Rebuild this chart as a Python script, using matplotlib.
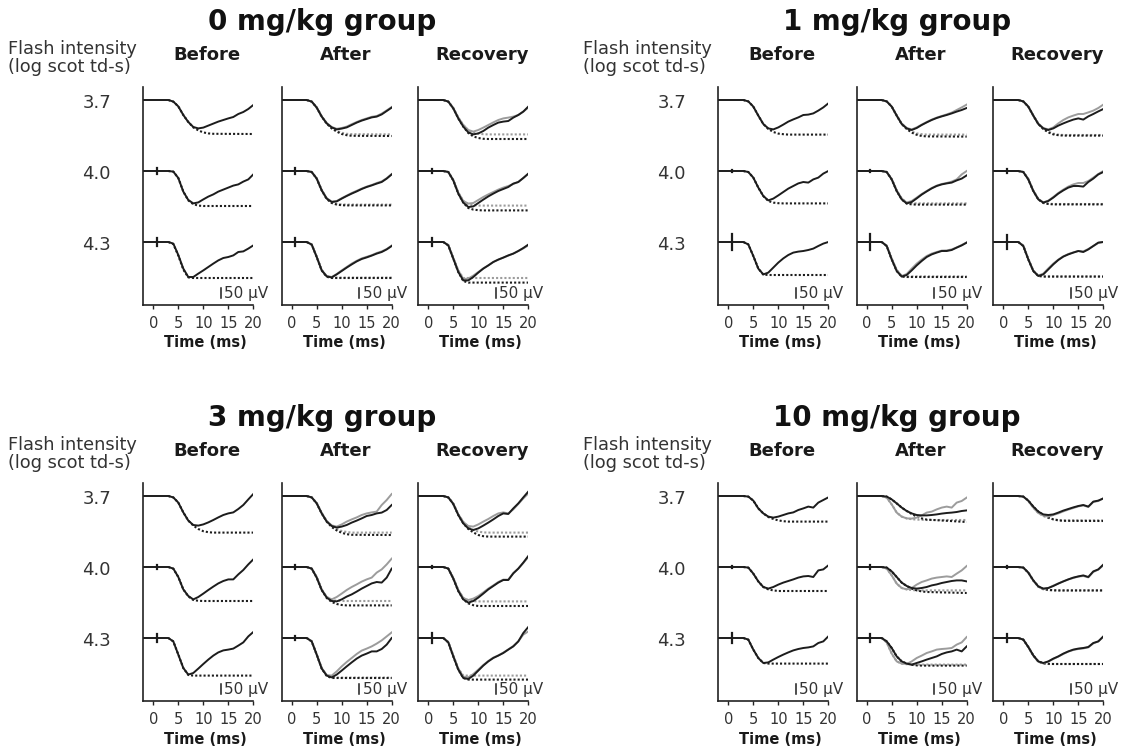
import matplotlib.pyplot as plt
from matplotlib.transforms import blended_transform_factory

plt.rcParams['font.family'] = ['DejaVu Sans']

# time grids (ms)
T_MS = [-2, 2, 3, 4, 5, 6, 7, 8, 9, 10, 11, 12, 13, 14, 15, 16, 17, 18, 19, 20]
T_FIT = [3, 4, 5, 6, 7, 8, 9, 10, 11, 12, 20]
INTENSITIES = ['3.7', '4.0', '4.3']
CONDITIONS = ['Before', 'After', 'Recovery']
GROUP_TITLES = ['0 mg/kg group', '1 mg/kg group', '3 mg/kg group', '10 mg/kg group']
X_TICKS = [0, 5, 10, 15, 20]

# ---- 0 mg/kg (uV, one row per intensity 3.7 / 4.0 / 4.3)
g0_before = [
    [0, 0, 0, -8, -32, -75, -110, -135, -142, -138, -128, -118, -108, -100, -92, -85, -70, -60, -45, -25],
    [0, 0, 0, -3, -35, -103, -145, -162, -157, -142, -128, -117, -103, -93, -83, -73, -67, -53, -42, -17],
    [0, 0, 0, -8, -65, -133, -175, -175, -158, -142, -125, -108, -92, -80, -75, -67, -50, -47, -33, -17],
]
g0_before_fit = [
    [0, -8, -32, -75, -110, -137, -152, -162, -167, -169, -170],
    [0, -3, -35, -103, -147, -166, -173, -175, -175, -175, -175],
    [0, -10, -68, -138, -177, -180, -180, -180, -180, -180, -180],
]
g0_after = [
    [0, 0, 0, -8, -38, -83, -117, -137, -147, -143, -137, -125, -113, -103, -95, -87, -83, -72, -55, -38],
    [0, 0, 0, -5, -38, -97, -138, -155, -152, -138, -125, -113, -102, -90, -80, -72, -63, -55, -38, -17],
    [0, 0, 0, -13, -75, -142, -172, -177, -162, -145, -128, -112, -97, -85, -77, -68, -58, -50, -37, -20],
]
g0_after_gray = [
    [0, 0, 0, -8, -37, -82, -115, -135, -144, -140, -133, -121, -110, -100, -92, -84, -80, -68, -52, -35],
    [0, 0, 0, -5, -37, -95, -136, -153, -150, -136, -123, -110, -99, -88, -78, -70, -60, -52, -36, -15],
    [0, 0, 0, -12, -73, -140, -170, -175, -160, -142, -125, -108, -94, -82, -74, -66, -55, -47, -35, -18],
]
g0_after_fit = [
    [0, -8, -38, -83, -118, -142, -158, -170, -176, -179, -180],
    [0, -5, -38, -97, -140, -160, -168, -171, -172, -172, -172],
    [0, -13, -75, -142, -174, -180, -180, -180, -180, -180, -180],
]
g0_after_gray_fit = [
    [0, -8, -37, -82, -116, -140, -154, -164, -169, -171, -172],
    [0, -5, -37, -95, -137, -157, -165, -167, -168, -168, -168],
    [0, -12, -73, -140, -172, -178, -178, -178, -178, -178, -178],
]
g0_rec = [
    [0, 0, 0, -8, -42, -92, -133, -162, -172, -167, -155, -138, -125, -113, -108, -105, -88, -75, -58, -33],
    [0, 0, 0, -5, -47, -113, -158, -180, -177, -160, -143, -127, -113, -100, -90, -80, -63, -55, -35, -13],
    [0, 0, 0, -17, -83, -150, -192, -192, -175, -153, -133, -117, -100, -88, -78, -67, -58, -45, -30, -13],
]
g0_rec_gray = [
    [0, 0, 0, -8, -40, -88, -125, -150, -158, -150, -138, -125, -112, -100, -92, -88, -83, -75, -58, -38],
    [0, 0, 0, -5, -45, -108, -150, -163, -160, -145, -130, -117, -105, -93, -83, -75, -65, -55, -35, -15],
    [0, 0, 0, -15, -80, -143, -185, -183, -168, -150, -132, -117, -100, -88, -78, -68, -58, -45, -32, -17],
]
g0_rec_fit = [
    [0, -8, -42, -92, -133, -165, -182, -190, -194, -195, -195],
    [0, -5, -47, -113, -158, -185, -193, -196, -197, -197, -197],
    [0, -17, -83, -150, -195, -203, -203, -203, -203, -203, -203],
]
g0_rec_gray_fit = [
    [0, -8, -40, -88, -125, -152, -163, -168, -171, -172, -172],
    [0, -5, -45, -108, -150, -166, -171, -173, -173, -173, -173],
    [0, -15, -80, -143, -180, -180, -180, -180, -180, -180, -180],
]
g0_artifact = [[0, 14, 18], [0, 16, 18], [0, 8, 18]]

# ---- 1 mg/kg
g1_before = [
    [0, 0, 0, -7, -33, -78, -120, -142, -147, -137, -123, -108, -97, -87, -75, -73, -67, -53, -37, -17],
    [0, 0, 0, -5, -33, -83, -125, -147, -138, -122, -105, -88, -75, -62, -55, -58, -42, -33, -13, 0],
    [0, 0, 0, -12, -70, -133, -162, -153, -128, -103, -82, -65, -53, -48, -45, -40, -33, -20, -8, 0],
]
g1_before_fit = [
    [0, -7, -33, -78, -120, -145, -160, -168, -171, -173, -173],
    [0, -5, -33, -83, -125, -150, -158, -161, -162, -162, -162],
    [0, -12, -70, -133, -163, -165, -165, -165, -165, -165, -165],
]
g1_after = [
    [0, 0, 0, -7, -33, -78, -120, -142, -150, -140, -125, -112, -100, -90, -82, -75, -67, -58, -50, -40],
    [0, 0, 0, -5, -42, -100, -142, -162, -155, -137, -118, -102, -87, -75, -67, -62, -58, -47, -38, -22],
    [0, 0, 0, -20, -87, -145, -173, -165, -142, -117, -95, -75, -62, -53, -45, -45, -40, -28, -17, -3],
]
g1_after_gray = [
    [0, 0, 0, -7, -33, -78, -118, -140, -147, -137, -123, -110, -98, -88, -80, -72, -63, -50, -37, -23],
    [0, 0, 0, -5, -40, -97, -138, -158, -150, -133, -115, -100, -85, -73, -65, -60, -53, -42, -17, 0],
    [0, 0, 0, -18, -83, -140, -170, -160, -133, -108, -88, -70, -58, -50, -43, -42, -37, -27, -15, -2],
]
g1_after_fit = [
    [0, -7, -33, -78, -120, -145, -163, -174, -180, -182, -183],
    [0, -5, -42, -100, -142, -163, -167, -168, -168, -168, -168],
    [0, -20, -87, -145, -173, -175, -175, -175, -175, -175, -175],
]
g1_after_gray_fit = [
    [0, -7, -33, -78, -118, -142, -158, -167, -171, -173, -173],
    [0, -5, -40, -97, -138, -158, -161, -162, -162, -162, -162],
    [0, -18, -83, -140, -170, -172, -172, -172, -172, -172, -172],
]
g1_rec = [
    [0, 0, 0, -7, -33, -78, -120, -142, -150, -142, -128, -117, -107, -98, -92, -98, -82, -70, -57, -45],
    [0, 0, 0, -5, -42, -100, -142, -158, -150, -133, -113, -97, -83, -75, -75, -78, -55, -38, -17, -5],
    [0, 0, 0, -20, -87, -145, -170, -162, -137, -112, -90, -73, -62, -53, -45, -50, -37, -20, -3, 0],
]
g1_rec_gray = [
    [0, 0, 0, -7, -33, -78, -118, -140, -147, -137, -117, -100, -87, -78, -70, -70, -62, -53, -40, -23],
    [0, 0, 0, -5, -40, -98, -140, -157, -148, -130, -110, -93, -78, -67, -60, -60, -50, -33, -15, 0],
    [0, 0, 0, -18, -85, -143, -168, -158, -132, -108, -88, -72, -60, -52, -45, -47, -35, -20, -5, 0],
]
g1_rec_fit = [
    [0, -7, -33, -78, -120, -145, -162, -172, -176, -178, -178],
    [0, -5, -42, -100, -142, -160, -165, -167, -167, -167, -167],
    [0, -20, -87, -145, -170, -173, -173, -173, -173, -173, -173],
]
g1_rec_gray_fit = [
    [0, -7, -33, -78, -118, -142, -158, -168, -173, -175, -175],
    [0, -5, -40, -98, -140, -158, -163, -165, -165, -165, -165],
    [0, -18, -85, -143, -168, -172, -172, -172, -172, -172, -172],
]
g1_artifact = [[0, 6, 40], [0, 5, 40], [0, 8, 36]]

# ---- 3 mg/kg
g3_before = [
    [0, 0, 0, -7, -33, -82, -123, -145, -148, -142, -132, -120, -107, -95, -87, -82, -65, -45, -17, 10],
    [0, 0, 0, -8, -50, -112, -145, -162, -150, -133, -115, -98, -82, -70, -62, -62, -37, -15, 13, 38],
    [0, 0, 0, -17, -83, -150, -183, -175, -153, -130, -108, -88, -72, -62, -58, -53, -38, -22, 8, 30],
]
g3_before_fit = [
    [0, -7, -33, -82, -123, -148, -165, -176, -181, -183, -183],
    [0, -8, -50, -112, -147, -165, -169, -170, -170, -170, -170],
    [0, -17, -83, -150, -185, -188, -188, -188, -188, -188, -188],
]
g3_after = [
    [0, 0, 0, -7, -37, -87, -128, -150, -158, -153, -145, -133, -123, -112, -100, -95, -87, -83, -70, -45],
    [0, 0, 0, -8, -53, -115, -153, -170, -172, -162, -148, -137, -123, -108, -95, -82, -75, -78, -53, -8],
    [0, 0, 0, -17, -83, -153, -188, -197, -183, -163, -142, -122, -103, -88, -78, -67, -67, -55, -33, 0],
]
g3_after_gray = [
    [0, 0, 0, -7, -35, -85, -125, -147, -153, -142, -128, -117, -107, -95, -87, -82, -78, -45, -20, 10],
    [0, 0, 0, -8, -50, -112, -150, -162, -150, -133, -115, -100, -87, -73, -62, -53, -28, -12, 13, 42],
    [0, 0, 0, -17, -83, -150, -185, -188, -167, -142, -120, -100, -80, -63, -53, -42, -28, -12, 8, 28],
]
g3_after_fit = [
    [0, -7, -37, -87, -128, -155, -172, -184, -191, -194, -195],
    [0, -8, -53, -115, -155, -175, -185, -190, -192, -192, -192],
    [0, -17, -83, -153, -190, -200, -200, -200, -200, -200, -200],
]
g3_after_gray_fit = [
    [0, -7, -35, -85, -125, -150, -165, -175, -180, -183, -183],
    [0, -8, -50, -112, -150, -165, -169, -170, -170, -170, -170],
    [0, -17, -83, -150, -187, -198, -198, -198, -198, -198, -198],
]
g3_rec = [
    [0, 0, 0, -7, -40, -95, -137, -162, -170, -162, -148, -133, -117, -100, -87, -90, -62, -37, -7, 22],
    [0, 0, 0, -8, -58, -120, -162, -178, -170, -153, -133, -112, -95, -78, -65, -65, -32, -8, 22, 55],
    [0, 0, 0, -22, -92, -158, -200, -205, -188, -163, -138, -117, -100, -88, -75, -58, -42, -17, 25, 55],
]
g3_rec_gray = [
    [0, 0, 0, -7, -38, -92, -130, -150, -153, -142, -128, -115, -100, -87, -82, -87, -67, -40, -12, 13],
    [0, 0, 0, -8, -55, -115, -155, -165, -158, -145, -127, -108, -92, -75, -63, -63, -30, -8, 20, 50],
    [0, 0, 0, -20, -88, -153, -193, -197, -180, -158, -135, -115, -98, -87, -73, -57, -40, -17, 17, 33],
]
g3_rec_fit = [
    [0, -7, -40, -95, -137, -165, -182, -195, -201, -203, -203],
    [0, -8, -58, -120, -162, -182, -191, -195, -195, -195, -195],
    [0, -22, -92, -158, -200, -208, -208, -208, -208, -208, -208],
]
g3_rec_gray_fit = [
    [0, -7, -38, -92, -130, -155, -170, -178, -182, -183, -183],
    [0, -8, -55, -115, -155, -167, -171, -172, -172, -172, -172],
    [0, -20, -88, -153, -188, -188, -188, -188, -188, -188, -188],
]
g3_artifact = [[0, 12, 18], [0, 8, 10], [0, 6, 26]]

# ---- 10 mg/kg
g10_before = [
    [0, 0, 0, -3, -23, -62, -87, -103, -108, -103, -95, -87, -82, -70, -62, -53, -58, -33, -20, -7],
    [0, 0, 0, -3, -33, -72, -100, -108, -100, -88, -78, -70, -62, -53, -47, -45, -50, -17, -12, 8],
    [0, 0, 0, -8, -58, -100, -125, -122, -108, -95, -83, -72, -62, -55, -50, -47, -42, -25, -17, 8],
]
g10_before_fit = [
    [0, -3, -23, -62, -87, -105, -115, -122, -126, -128, -128],
    [0, -3, -33, -72, -100, -112, -117, -120, -120, -120, -120],
    [0, -8, -58, -100, -125, -128, -128, -128, -128, -128, -128],
]
g10_after = [
    [0, 0, 0, -3, -17, -37, -58, -75, -87, -95, -97, -97, -95, -92, -88, -85, -83, -80, -75, -72],
    [0, 0, 0, -3, -22, -50, -78, -95, -105, -108, -105, -100, -92, -87, -80, -75, -70, -67, -67, -72],
    [0, 0, 0, -17, -50, -92, -117, -128, -133, -125, -117, -108, -100, -92, -80, -72, -67, -58, -67, -42],
]
g10_after_gray = [
    [0, 0, 0, -8, -42, -83, -103, -112, -113, -108, -97, -83, -78, -67, -58, -53, -58, -33, -25, -8],
    [0, 0, 0, -8, -42, -83, -105, -112, -105, -88, -75, -67, -58, -53, -50, -47, -50, -33, -17, 5],
    [0, 0, 0, -22, -78, -117, -128, -130, -117, -100, -88, -75, -67, -58, -55, -53, -50, -33, -22, 5],
]
g10_after_fit = [
    [0, -3, -17, -37, -58, -75, -90, -103, -112, -118, -130],
    [0, -3, -22, -50, -78, -95, -108, -117, -122, -125, -130],
    [0, -17, -50, -92, -117, -128, -134, -137, -138, -138, -138],
]
g10_after_gray_fit = [
    [0, -8, -42, -83, -103, -112, -116, -118, -119, -120, -120],
    [0, -8, -42, -83, -105, -112, -115, -117, -117, -117, -117],
    [0, -22, -78, -117, -128, -131, -133, -133, -133, -133, -133],
]
g10_rec = [
    [0, 0, 0, -3, -23, -53, -78, -92, -95, -92, -83, -73, -65, -57, -50, -45, -53, -28, -23, -12],
    [0, 0, 0, -3, -28, -67, -97, -108, -105, -95, -83, -72, -62, -53, -47, -42, -50, -22, -12, 12],
    [0, 0, 0, -8, -45, -87, -117, -125, -117, -103, -92, -78, -67, -58, -53, -50, -45, -25, -17, 8],
]
g10_rec_gray = [
    [0, 0, 0, -3, -25, -58, -85, -98, -103, -95, -87, -77, -68, -60, -52, -47, -55, -30, -25, -12],
    [0, 0, 0, -3, -28, -68, -98, -110, -105, -93, -82, -72, -62, -55, -48, -45, -52, -25, -13, 8],
    [0, 0, 0, -8, -45, -88, -118, -127, -118, -105, -93, -80, -68, -60, -55, -52, -47, -27, -17, 5],
]
g10_rec_fit = [
    [0, -3, -23, -53, -78, -95, -108, -117, -122, -124, -125],
    [0, -3, -28, -67, -97, -110, -114, -116, -117, -117, -117],
    [0, -8, -45, -87, -117, -126, -129, -130, -130, -130, -130],
]
g10_rec_gray_fit = [
    [0, -3, -25, -58, -85, -100, -110, -116, -120, -122, -122],
    [0, -3, -28, -68, -98, -112, -116, -118, -118, -118, -118],
    [0, -8, -45, -88, -118, -128, -130, -130, -130, -130, -130],
]
g10_artifact = [[0, 6, 26], [0, 8, 22], [0, 4, 18]]

OFFSETS = [0, -355, -710]   # vertical stacking of the three intensities (uV)
SCALE_UV = 50

groups = [
    (GROUP_TITLES[0], [g0_before, g0_after, g0_rec], [g0_before_fit, g0_after_fit, g0_rec_fit],
     [None, g0_after_gray, g0_rec_gray], [None, g0_after_gray_fit, g0_rec_gray_fit], g0_artifact),
    (GROUP_TITLES[1], [g1_before, g1_after, g1_rec], [g1_before_fit, g1_after_fit, g1_rec_fit],
     [None, g1_after_gray, g1_rec_gray], [None, g1_after_gray_fit, g1_rec_gray_fit], g1_artifact),
    (GROUP_TITLES[2], [g3_before, g3_after, g3_rec], [g3_before_fit, g3_after_fit, g3_rec_fit],
     [None, g3_after_gray, g3_rec_gray], [None, g3_after_gray_fit, g3_rec_gray_fit], g3_artifact),
    (GROUP_TITLES[3], [g10_before, g10_after, g10_rec], [g10_before_fit, g10_after_fit, g10_rec_fit],
     [None, g10_after_gray, g10_rec_gray], [None, g10_after_gray_fit, g10_rec_gray_fit], g10_artifact),
]

W, H = 1128, 751
PANEL_X = [143.3, 281.7, 418.3]
PANEL_W, PANEL_H = 110, 218
GROUP_DX = [0, 575, 0, 575]
GROUP_TOP = [87, 87, 483, 483]

BLACK = '#1c1c1c'
GRAY = '#9c9c9c'
TXT = '#333333'

fig = plt.figure(figsize=(W / 100, H / 100), dpi=100)


def px(x, y):
    return x / W, 1 - y / H


for gi, (title, blacks, fits, grays, gray_fits, artifacts) in enumerate(groups):
    dx, top = GROUP_DX[gi], GROUP_TOP[gi]
    fig.text(*px(322 + dx, top - 65), title, ha='center', va='center',
             fontsize=20, fontweight='bold', color='#111111')
    fig.text(*px(8 + dx, top - 38), 'Flash intensity', ha='left', va='center',
             fontsize=12.8, color=TXT)
    fig.text(*px(8 + dx, top - 20), '(log scot td-s)', ha='left', va='center',
             fontsize=12.8, color=TXT)
    for k, lab in enumerate(INTENSITIES):
        fig.text(*px(111 + dx, top + 16 + 71 * k), lab, ha='right', va='center',
                 fontsize=13, color=TXT)

    for ci, cond in enumerate(CONDITIONS):
        left = PANEL_X[ci] + dx
        ax = fig.add_axes([left / W, 1 - (top + PANEL_H) / H, PANEL_W / W, PANEL_H / H])
        ax.set_xlim(-2, 20)
        ax.set_ylim(-1025, 65)
        for s in ['top', 'right']:
            ax.spines[s].set_visible(False)
        for s in ['left', 'bottom']:
            ax.spines[s].set_linewidth(1.2)
            ax.spines[s].set_color('#222222')
        ax.set_yticks([])
        ax.set_xticks(X_TICKS)
        ax.tick_params(axis='x', length=3, width=1, pad=5, labelsize=10.5,
                       labelcolor=TXT, color='#222222')
        trans = blended_transform_factory(ax.transData, ax.transAxes)
        ax.text(10.8, 1 + 32 / PANEL_H, cond, transform=trans, ha='center', va='center',
                fontsize=13, fontweight='bold', color='#1a1a1a')
        ax.text(10.5, -38 / PANEL_H, 'Time (ms)', transform=trans, ha='center', va='center',
                fontsize=10.5, fontweight='bold', color='#1a1a1a')

        for k in range(3):
            off = OFFSETS[k]
            if gray_fits[ci] is not None:
                ax.plot(T_FIT, [v + off for v in gray_fits[ci][k]], color=GRAY,
                        lw=1.5, ls=(0, (1, 1)))
            ax.plot(T_FIT, [v + off for v in fits[ci][k]], color=BLACK,
                    lw=1.5, ls=(0, (1, 1)))
            if grays[ci] is not None:
                ax.plot(T_MS, [v + off for v in grays[ci][k]], color=GRAY, lw=1.4)
            ax.plot(T_MS, [v + off for v in blacks[ci][k]], color=BLACK, lw=1.4)
            a = artifacts[ci][k]
            if a:
                ax.plot([0.7, 0.7], [off - a, off + a], color=BLACK, lw=1.6)

        # 50 uV scale bar
        ax.plot([13.5, 13.5], [-990, -990 + SCALE_UV], color=BLACK, lw=1.1)
        ax.text(14.2, -992, '50 µV', ha='left', va='baseline', fontsize=11,
                color=TXT, clip_on=False)

fig.savefig('out.png', dpi=100)
